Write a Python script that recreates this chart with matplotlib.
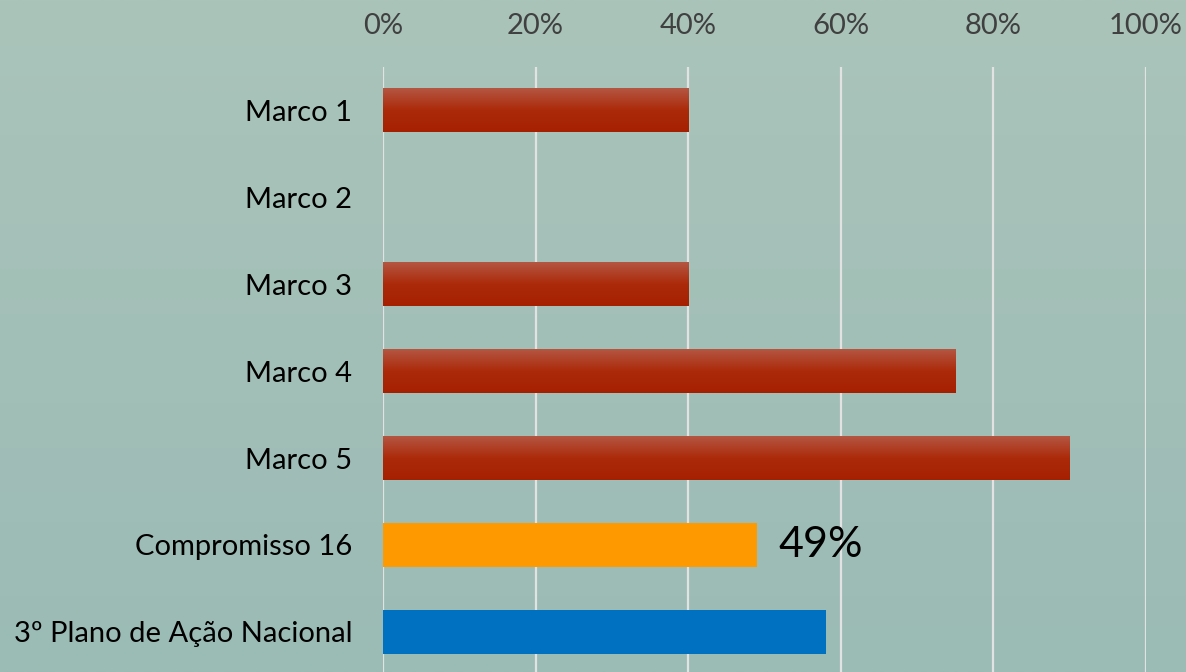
import numpy as np
import matplotlib
matplotlib.use('Agg')
import matplotlib.pyplot as plt
from matplotlib.colors import LinearSegmentedColormap
from matplotlib.ticker import PercentFormatter

plt.rcParams['font.family'] = ['Lato', 'DejaVu Sans']

categories = ['Marco 1', 'Marco 2', 'Marco 3', 'Marco 4', 'Marco 5',
              'Compromisso 16', '3º Plano de Ação Nacional']
values = [40, 0, 40, 75, 90, 49, 58]
kinds = ['marco', 'marco', 'marco', 'marco', 'marco', 'compromisso', 'plano']
label_text = {5: '49%'}

flat_colors = {'compromisso': '#ff9900', 'plano': '#0070c0'}
red_cmap = LinearSegmentedColormap.from_list('red', ['#b45743', '#ab2a0a', '#a52000'])

fig = plt.figure(figsize=(11.86, 6.72), dpi=100)

# background gradient
bg = fig.add_axes([0, 0, 1, 1], zorder=-10)
grad = np.linspace(0, 1, 256).reshape(-1, 1)
bg_cmap = LinearSegmentedColormap.from_list('bg', ['#aac4ba', '#9bbbb5'])
bg.imshow(grad, aspect='auto', cmap=bg_cmap, extent=[0, 1, 0, 1], origin='upper')
bg.set_axis_off()

ax = fig.add_axes([0.3229, -0.005, 0.6434, 0.9053])
ax.patch.set_alpha(0)

y = np.arange(len(categories))
colors = [flat_colors.get(k, '#a82808') for k in kinds]
bars = ax.barh(y, values, height=0.5, color=colors, zorder=3)

# vertical gradient on the red bars
for bar, k in zip(bars, kinds):
    if k != 'marco' or bar.get_width() == 0:
        continue
    x0, y0 = bar.get_x(), bar.get_y()
    w, h = bar.get_width(), bar.get_height()
    ax.imshow(grad, aspect='auto', cmap=red_cmap, zorder=4,
              extent=[x0, x0 + w, y0 + h, y0], origin='upper')

for i, txt in label_text.items():
    ax.text(values[i] + 2.8, y[i], txt, va='center', ha='left',
            fontsize=31, color='black', zorder=5)

ax.set_xlim(0, 100)
ax.set_ylim(len(categories) - 0.5, -0.5)
ax.set_yticks(y)
ax.set_yticklabels(categories, fontsize=21, color='black')
ax.set_xticks(np.arange(0, 101, 20))
ax.xaxis.set_major_formatter(PercentFormatter(decimals=0))
ax.xaxis.tick_top()
ax.tick_params(axis='x', labelsize=21, colors='#404040', length=0, pad=20)
ax.tick_params(axis='y', length=0, pad=22)
ax.grid(axis='x', color='#e2e2e2', linewidth=1.6, zorder=0)
ax.grid(axis='y', visible=False)
for s in ax.spines.values():
    s.set_visible(False)

fig.savefig('out.png', dpi=100)
